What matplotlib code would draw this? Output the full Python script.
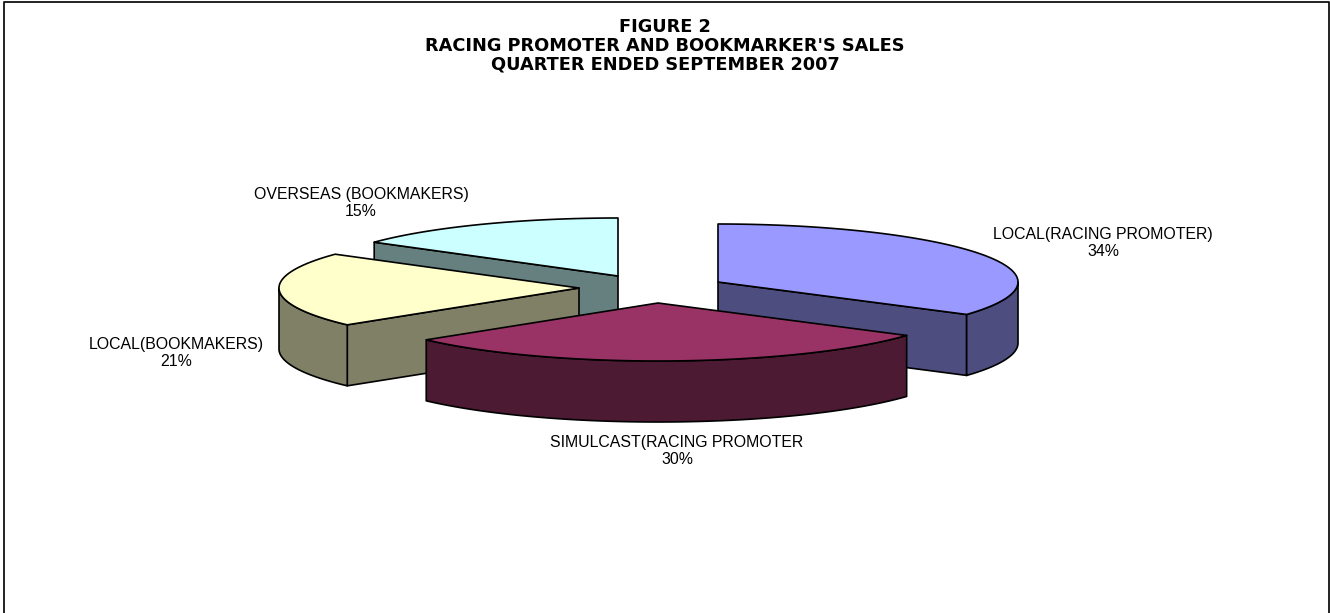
import numpy as np
import matplotlib
matplotlib.use("Agg")
from matplotlib import pyplot as plt
from matplotlib.patches import Polygon

plt.rcParams['font.family'] = ['Liberation Sans', 'DejaVu Sans']

labels = ["LOCAL(RACING PROMOTER)", "SIMULCAST(RACING PROMOTER",
          "LOCAL(BOOKMAKERS)", "OVERSEAS (BOOKMAKERS)"]
values = [34.45, 29.6, 20.85, 15.1]
top_colors = ["#9999ff", "#993366", "#ffffcc", "#ccffff"]
wall_colors = ["#4d4d80", "#4d1a33", "#808066", "#668080"]

# exploded apex of each slice, in pixels
apex_x = [718, 658, 579, 618]
apex_y = [282, 303, 288, 276]
label_x = [1103, 677, 176, 361]
label_y = [234, 442, 344, 194]
paint_order = [3, 2, 0, 1]

W, H = 1330, 613
RX, RY, DEPTH = 300, 58, 61


def rim(cx, cy, a0, a1):
    t = np.radians(np.linspace(a0, a1, 120))
    return np.column_stack([cx + RX*np.sin(t), cy - RY*np.cos(t)])


def face(ax, pts, color):
    ax.add_patch(Polygon(pts, closed=True, facecolor=color, edgecolor="black",
                         linewidth=1.2, joinstyle="round"))


fig = plt.figure(figsize=(W/100, H/100), dpi=100)
ax = fig.add_axes([0, 0, 1, 1])
ax.set_xlim(0, W)
ax.set_ylim(H, 0)
ax.axis('off')

ends = np.cumsum(values)/np.sum(values)*360
starts = np.r_[0, ends[:-1]]

for i in paint_order:
    cx, cy = apex_x[i], apex_y[i]
    a0, a1 = starts[i], ends[i]
    drop = np.array([0, DEPTH])
    c = np.array([cx, cy])
    # cut faces, only the ones turned to the viewer
    if 180 < a0 < 360:
        p = rim(cx, cy, a0, a0)[0]
        face(ax, [c, p, p+drop, c+drop], wall_colors[i])
    if 0 < a1 < 180:
        p = rim(cx, cy, a1, a1)[0]
        face(ax, [c, p, p+drop, c+drop], wall_colors[i])
    lo, hi = max(a0, 90), min(a1, 270)
    if hi > lo:
        arc = rim(cx, cy, lo, hi)
        face(ax, np.vstack([arc, arc[::-1]+drop]), wall_colors[i])
    face(ax, np.vstack([[cx, cy], rim(cx, cy, a0, a1)]), top_colors[i])

for i in range(len(labels)):
    ax.text(label_x[i], label_y[i], labels[i], ha="center", va="center", fontsize=11.4)
    ax.text(label_x[i], label_y[i]+18, "%d%%" % round(values[i]), ha="center", va="center", fontsize=11.4)

title = ["FIGURE 2", "RACING PROMOTER AND BOOKMARKER'S SALES", "QUARTER ENDED SEPTEMBER 2007"]
for line, y in zip(title, [27, 46, 65]):
    ax.text(665, y, line, ha="center", va="center", fontsize=12.8, fontweight="bold",
            family=['DejaVu Sans'])

# chart frame, no bottom edge in the crop
ax.plot([4, 4, 1329, 1329], [H, 1.5, 1.5, H], color="#111111", linewidth=1.3, clip_on=False)

fig.savefig("out.png", dpi=100)
